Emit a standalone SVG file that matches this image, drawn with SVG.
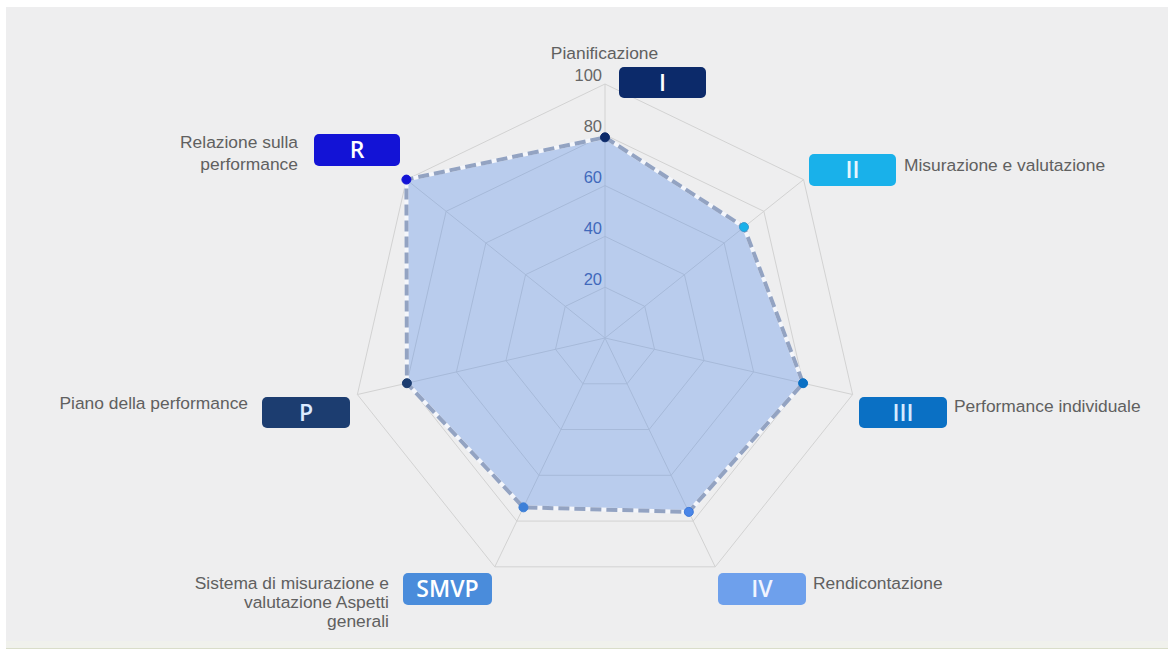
<svg xmlns="http://www.w3.org/2000/svg" width="1168" height="650" viewBox="0 0 1168 650">
  <style>
    .grid { fill: none; stroke: #d2d2d2; stroke-width: 1; }
    .lbl { font-family: "Liberation Sans", Arial, sans-serif; font-size: 17.4px; fill: #606060; }
    .tick { font-family: "Liberation Sans", Arial, sans-serif; font-size: 16.5px; text-anchor: end; }
    .badge-t { font-family: "Open Sans", "Liberation Sans", sans-serif; font-size: 23px; font-weight: 600; text-anchor: middle; }
    .dot { stroke-width: 1; }
  </style>
  <rect x="0" y="0" width="1168" height="650" fill="#ffffff"/>
  <rect x="6" y="7" width="1162" height="641" fill="#eeeeef"/>
  <rect x="6" y="641" width="1162" height="7" fill="#f0f1ec"/>
  <line x1="6" y1="648.5" x2="1168" y2="648.5" stroke="#d9ddc9" stroke-width="1"/>

  <g id="grid">
    <polygon class="grid" points="605,84 803.58,179.63 852.63,394.52 715.21,566.85 494.79,566.85 357.37,394.52 406.42,179.63"/>
    <polygon class="grid" points="605,134.8 763.87,211.31 803.11,383.22 693.16,521.08 516.84,521.08 406.89,383.22 446.13,211.31"/>
    <polygon class="grid" points="605,185.6 724.15,242.98 753.58,371.91 671.12,475.31 538.88,475.31 456.42,371.91 485.85,242.98"/>
    <polygon class="grid" points="605,236.4 684.43,274.65 704.05,360.61 649.08,429.54 560.92,429.54 505.95,360.61 525.57,274.65"/>
    <polygon class="grid" points="605,287.2 644.72,306.33 654.53,349.3 627.04,383.77 582.96,383.77 555.47,349.3 565.28,306.33"/>
    <path class="grid" d="M605,338 L605,84 M605,338 L803.58,179.63 M605,338 L852.63,394.52 M605,338 L715.21,566.85 M605,338 L494.79,566.85 M605,338 L357.37,394.52 M605,338 L406.42,179.63"/>
  </g>

  <g id="ticks">
    <text class="tick" x="602" y="81" fill="#666666">100</text>
    <text class="tick" x="602" y="132" fill="#666666">80</text>
    <text class="tick" x="602" y="183" fill="#3d5ba6">60</text>
    <text class="tick" x="602" y="234" fill="#3d5ba6">40</text>
    <text class="tick" x="602" y="285" fill="#3d5ba6">20</text>
  </g>

  <g id="series">
    <polygon points="605,137.3 744,227.1 803.1,383.2 688.8,511.9 523.45,507.35 406.9,383.2 406.4,179.6" fill="#4a86e8" fill-opacity="0.32" stroke="#f4f6fb" stroke-width="4" stroke-linejoin="round"/>
    <polygon points="605,137.3 744,227.1 803.1,383.2 688.8,511.9 523.45,507.35 406.9,383.2 406.4,179.6" fill="none" stroke="#93a3c2" stroke-width="4" stroke-dasharray="11 5"/>
    <circle class="dot" cx="605" cy="137.3" r="4.5" fill="#0c2a6a" stroke="#0c2a6a"/>
    <circle class="dot" cx="744" cy="227.1" r="4.5" fill="#19b1ea" stroke="#3a9bd0"/>
    <circle class="dot" cx="803.1" cy="383.2" r="4.5" fill="#0a70c4" stroke="#0a70c4"/>
    <circle class="dot" cx="688.8" cy="511.9" r="4.5" fill="#4a86e8" stroke="#3a76d8"/>
    <circle class="dot" cx="523.45" cy="507.35" r="4.5" fill="#3c7fd8" stroke="#3c7fd8"/>
    <circle class="dot" cx="406.9" cy="383.2" r="4.5" fill="#1c3d70" stroke="#1c3d70"/>
    <circle class="dot" cx="406.4" cy="179.6" r="4.5" fill="#1313d6" stroke="#1313d6"/>
  </g>

  <g id="node-I">
    <text class="lbl" x="604.5" y="59" text-anchor="middle">Pianificazione</text>
    <rect x="619" y="67" width="87" height="31" rx="5" fill="#0c2a6a"/>
    <text class="badge-t" x="662.5" y="90.5" fill="#ffffff">I</text>
  </g>
  <g id="node-II">
    <rect x="809" y="154" width="87" height="32" rx="5" fill="#19b1ea"/>
    <text class="badge-t" x="852.5" y="178" fill="#e6f6ff">II</text>
    <text class="lbl" x="904" y="171">Misurazione e valutazione</text>
  </g>
  <g id="node-III">
    <rect x="859" y="397" width="88" height="31" rx="5" fill="#0a70c4"/>
    <text class="badge-t" x="903" y="420.5" fill="#d4ebff">III</text>
    <text class="lbl" x="954" y="412">Performance individuale</text>
  </g>
  <g id="node-IV">
    <rect x="718" y="573" width="88" height="32" rx="5" fill="#6ea0ec"/>
    <text class="badge-t" x="762" y="597" fill="#f0f4ff">IV</text>
    <text class="lbl" x="813" y="589">Rendicontazione</text>
  </g>
  <g id="node-SMVP">
    <rect x="403" y="573" width="89" height="32" rx="5" fill="#4a8cdb"/>
    <text class="badge-t" x="447.5" y="597" fill="#ffffff">SMVP</text>
    <text class="lbl" x="389" y="589" text-anchor="end">Sistema di misurazione e</text>
    <text class="lbl" x="389" y="608" text-anchor="end">valutazione Aspetti</text>
    <text class="lbl" x="389" y="627" text-anchor="end">generali</text>
  </g>
  <g id="node-P">
    <rect x="262" y="397" width="88" height="31" rx="5" fill="#1c3d70"/>
    <text class="badge-t" x="306" y="420.5" fill="#dcebff">P</text>
    <text class="lbl" x="248" y="409" text-anchor="end">Piano della performance</text>
  </g>
  <g id="node-R">
    <rect x="314" y="134" width="86" height="32" rx="5" fill="#1313d6"/>
    <text class="badge-t" x="357" y="158" fill="#ffffff">R</text>
    <text class="lbl" x="298" y="148" text-anchor="end">Relazione sulla</text>
    <text class="lbl" x="298" y="170" text-anchor="end">performance</text>
  </g>
</svg>
